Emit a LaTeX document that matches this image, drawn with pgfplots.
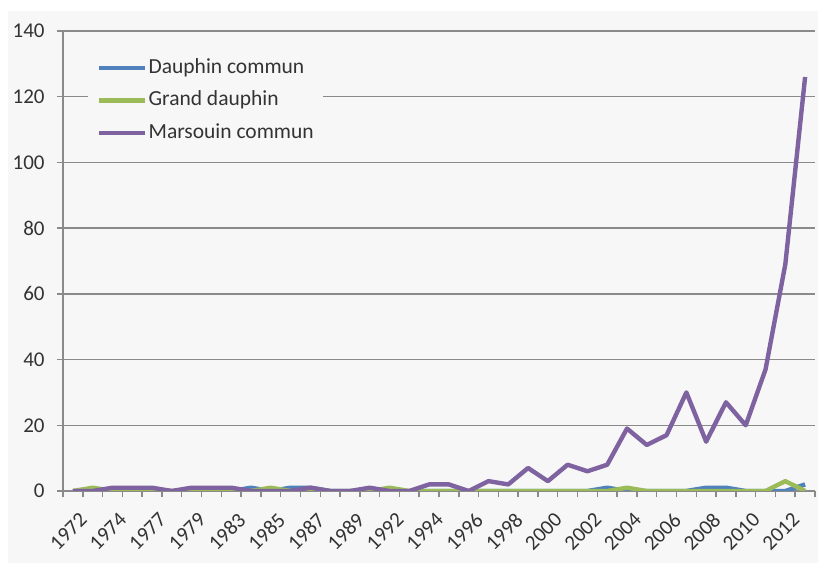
\documentclass[border=0pt]{standalone}
\usepackage{fontspec}
\setmainfont{Carlito}
\usepackage{pgfplots}
\pgfplotsset{compat=1.18}
\usepackage{pgfplotstable}

\definecolor{dauphin}{HTML}{4F81BD}
\definecolor{grand}{HTML}{9BBB59}
\definecolor{marsouin}{HTML}{7F63A1}
\definecolor{chartbg}{HTML}{F7F7F7}
\definecolor{gridgray}{HTML}{8A8A8A}
\definecolor{labeltext}{HTML}{333333}

% Observations per recorded year (i = category index along the axis)
% D = Dauphin commun, G = Grand dauphin, M = Marsouin commun
\pgfplotstableread{
i  D  G  M
1  0  0  0
2  0  1  0
3  0  0  1
4  0  0  1
5  0  0  1
6  0  0  0
7  0  0  1
8  0  0  1
9  0  0  1
10 1  0  0
11 0  1  0
12 1  0  0
13 1  0  1
14 0  0  0
15 0  0  0
16 0  0  1
17 0  1  0
18 0  0  0
19 0  0  2
20 0  0  2
21 0  0  0
22 0  0  3
23 0  0  2
24 0  0  7
25 0  0  3
26 0  0  8
27 0  0  6
28 1  0  8
29 0  1  19
30 0  0  14
31 0  0  17
32 0  0  30
33 1  0  15
34 1  0  27
35 0  0  20
36 0  0  37
37 0  3  69
38 2  0  126
}\strandings

\begin{document}
\begin{tikzpicture}
\fill[white] (0,0) rectangle (409pt,282.5pt);
\fill[chartbg] (4pt,1pt) rectangle (409pt,277pt);
\useasboundingbox (0,0) rectangle (409pt,282.5pt);
\begin{axis}[
  at={(31.5pt,37pt)}, anchor=south west,
  scale only axis, width=376pt, height=230pt,
  xmin=0.5, xmax=38.5, ymin=0, ymax=140,
  axis x line=bottom, axis y line=left,
  axis line style={-, draw=gridgray, line width=0.75pt},
  xtick={1,3,...,37},
  xticklabels={1972,1974,1977,1979,1983,1985,1987,1989,1992,1994,1996,1998,2000,2002,2004,2006,2008,2010,2012},
  minor xtick={0.5,1.5,...,38.5},
  ytick={0,20,...,140},
  ymajorgrids,
  major grid style={draw=gridgray, line width=0.75pt},
  tick align=outside,
  major tick length=3pt, minor tick length=3pt,
  every tick/.style={draw=gridgray, line width=0.75pt},
  major x tick style={draw=none},
  tick label style={font=\fontsize{10.5}{12}\selectfont, text=labeltext},
  /pgf/number format/assume math mode=true,
  xticklabel style={rotate=45, anchor=north east, inner sep=0pt, xshift=-3pt, yshift=-7pt},
  yticklabel style={inner sep=0pt, xshift=-6pt},
  legend cell align=left,
  legend style={at={(axis description cs:0.033,0.953)}, anchor=north west,
    fill=chartbg, draw=none, inner xsep=4.5pt, inner ysep=3pt,
    font=\fontsize{10.75}{12}\selectfont, text=labeltext,
    row sep=7.25pt, column sep=0.5pt,
    nodes={inner sep=0pt, text height=7pt, text depth=2pt}},
  legend image code/.code={\draw[#1, line width=2.2pt] (0pt,0pt) -- (23pt,0pt);},
]
\addplot[dauphin, line width=2.2pt, line join=round] table[x=i, y=D] {\strandings};
\addlegendentry{Dauphin commun}
\addplot[grand, line width=2.2pt, line join=round] table[x=i, y=G] {\strandings};
\addlegendentry{Grand dauphin}
\addplot[marsouin, line width=2.2pt, line join=round] table[x=i, y=M] {\strandings};
\addlegendentry{Marsouin commun}
\end{axis}
\end{tikzpicture}
\end{document}
